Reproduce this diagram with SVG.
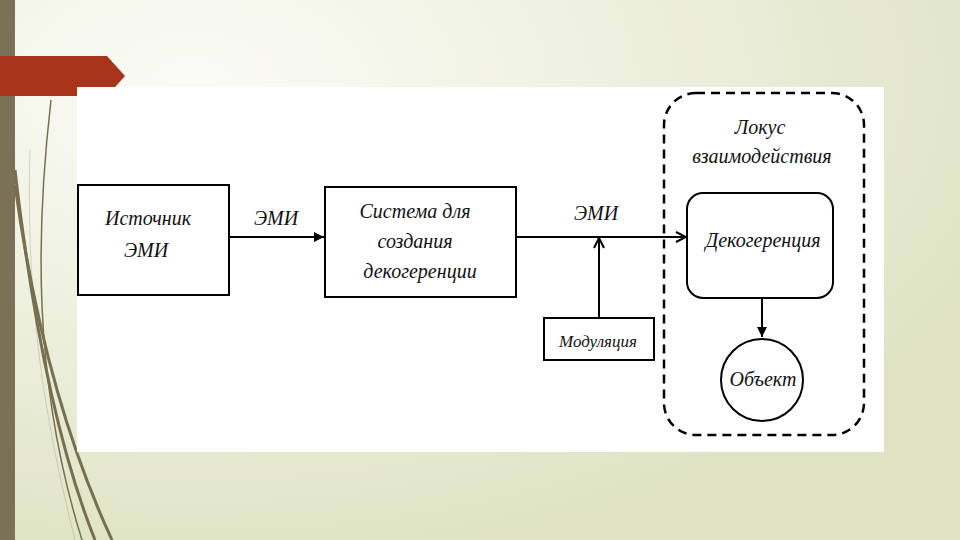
<svg xmlns="http://www.w3.org/2000/svg" width="960" height="540" viewBox="0 0 960 540">
<defs>
<radialGradient id="bg" cx="0.2" cy="0.15" r="0.9">
<stop offset="0" stop-color="#fbfbf6"/>
<stop offset="0.5" stop-color="#eef0df"/>
<stop offset="1" stop-color="#dfe3c4"/>
</radialGradient>
<marker id="ah" viewBox="0 0 12 12" refX="11" refY="6" markerWidth="12" markerHeight="12" markerUnits="userSpaceOnUse" orient="auto">
<path d="M1,1 L11,6 L1,11" fill="none" stroke="#000" stroke-width="2"/>
</marker>
<marker id="ahf" viewBox="0 0 12 12" refX="11" refY="6" markerWidth="12" markerHeight="12" markerUnits="userSpaceOnUse" orient="auto">
<path d="M1,1 L11,6 L1,11 Z" fill="#000"/>
</marker>
</defs>
<style>
.t{font-family:"Liberation Serif","Times New Roman",serif;font-style:italic;font-size:20px;fill:#111;text-anchor:middle}
.box{fill:#fff;stroke:#000;stroke-width:2}
.ln{fill:none;stroke:#000;stroke-width:2}
.curve{fill:none;stroke:#77704f}
</style>
<rect x="0" y="0" width="960" height="540" fill="url(#bg)"/>
<rect x="0" y="0" width="15" height="540" fill="#7a7256"/>
<g id="decor">
<path class="curve" stroke-width="1.5" d="M51,100 C36,230 32,380 82,540"/>
<path class="curve" stroke-width="3" d="M15,170 C30,300 55,440 95,540"/>
<path class="curve" stroke-width="3" d="M15,185 C35,330 68,445 112,540"/>
<path class="curve" stroke-width="1" stroke-opacity="0.25" d="M30,150 C25,320 50,440 75,540"/>
</g>
<path d="M0,56 L107,56 L125,76 L107,96 L0,96 Z" fill="#a83419"/>
<rect x="77" y="87" width="807" height="365" fill="#fff"/>

<g id="locus">
<rect x="664" y="93" width="200" height="342" rx="32" fill="none" stroke="#000" stroke-width="2.5" stroke-dasharray="9,6"/>
<text class="t" x="760" y="134">Локус</text>
<text class="t" x="762" y="163">взаимодействия</text>
</g>

<g id="connectors">
<line class="ln" x1="229" y1="237" x2="324" y2="237" marker-end="url(#ahf)"/>
<line class="ln" x1="516" y1="237" x2="686" y2="237" marker-end="url(#ah)"/>
<line class="ln" x1="599" y1="318" x2="599" y2="238" stroke-width="2.5" marker-end="url(#ah)"/>
<line class="ln" x1="762" y1="298" x2="762" y2="337" marker-end="url(#ahf)"/>
<text class="t" x="276" y="225">ЭМИ</text>
<text class="t" x="596" y="220">ЭМИ</text>
</g>

<g id="source">
<rect class="box" x="78" y="185" width="151" height="110"/>
<text class="t" x="148" y="225">Источник</text>
<text class="t" x="146" y="257">ЭМИ</text>
</g>

<g id="system">
<rect class="box" x="325" y="187" width="191" height="110"/>
<text class="t" x="415" y="218">Система  для</text>
<text class="t" x="415" y="248">создания</text>
<text class="t" x="420" y="278">декогеренции</text>
</g>

<g id="modulation">
<rect class="box" x="544" y="318" width="110" height="42" stroke-width="3"/>
<text class="t" x="598" y="347" style="font-size:17px">Модуляция</text>
</g>

<g id="decoherence">
<rect class="box" x="687" y="193" width="146" height="105" rx="16"/>
<text class="t" x="763" y="247">Декогеренция</text>
</g>

<g id="object">
<circle class="box" cx="762" cy="380" r="41"/>
<text class="t" x="763" y="386">Объект</text>
</g>
</svg>
